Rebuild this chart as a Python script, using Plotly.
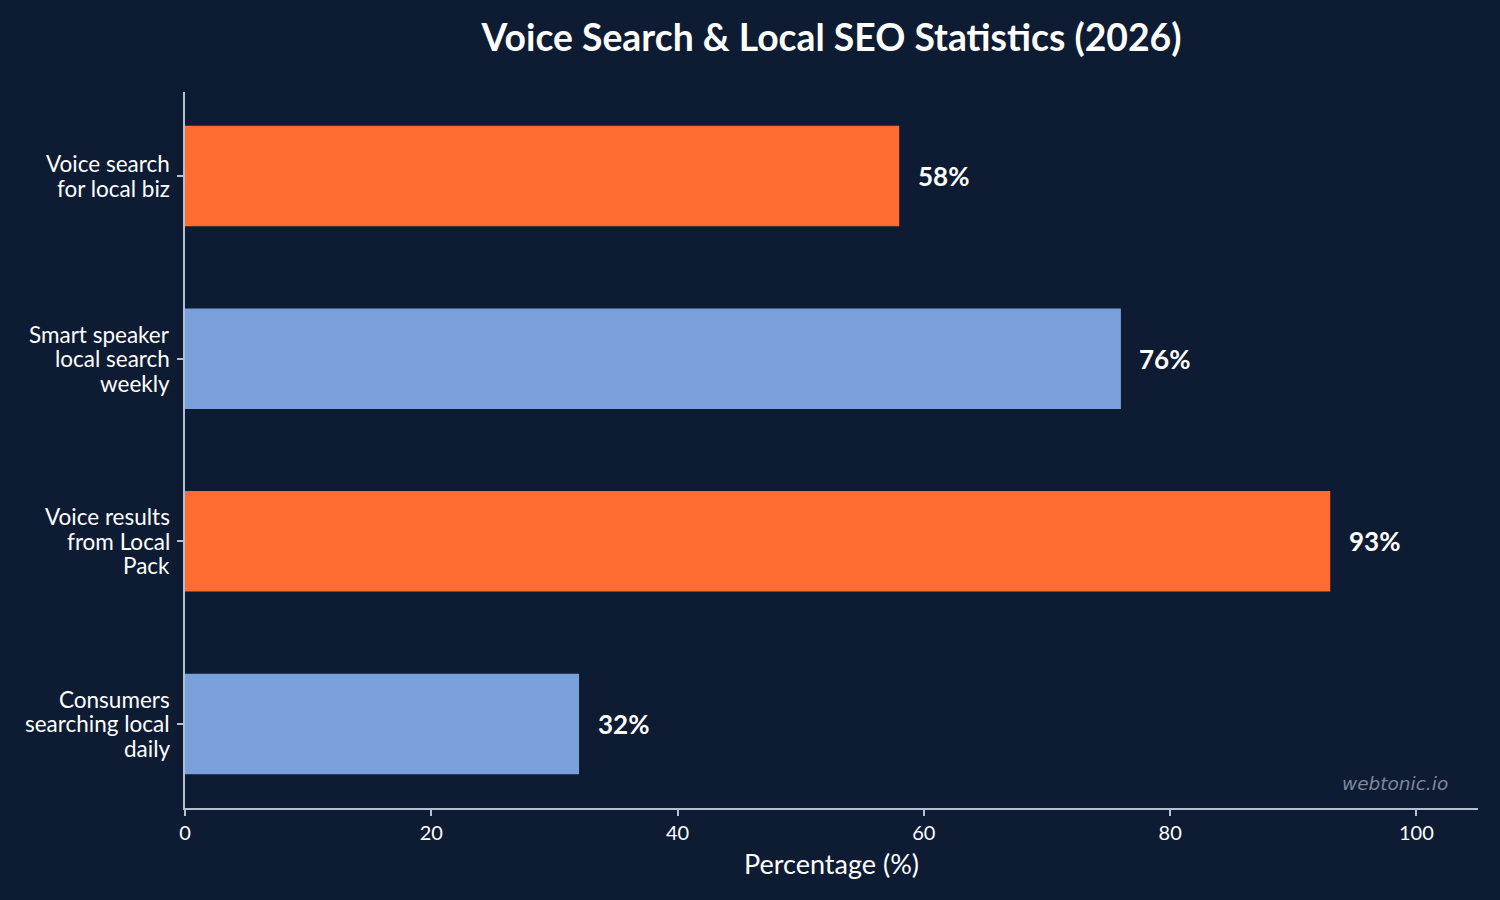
import plotly.graph_objects as go

categories = ["Voice search<br>for local biz", "Smart speaker<br>local search<br>weekly",
              "Voice results<br>from Local<br>Pack", "Consumers<br>searching local<br>daily"]
values = [58, 76, 93, 32]
colors = ["#ff6b30", "#7aa0dc", "#ff6b30", "#7aa0dc"]
labels = [f"{v}%" for v in values]

BG = "#0d1b33"
AX = "#b4bfcf"
LINE_H = 24.5

fig = go.Figure()
fig.add_trace(go.Bar(
    y=list(range(len(categories))), x=values, orientation="h",
    marker=dict(color=colors, line=dict(width=0)), width=0.55,
    hoverinfo="skip", showlegend=False,
))

annotations = []
for i, (v, lab) in enumerate(zip(values, labels)):
    annotations.append(dict(
        text=f"<b>{lab}</b>", xref="x", yref="y", x=v + 1.5, y=i,
        xanchor="left", yanchor="middle", xshift=-2, yshift=0, showarrow=False,
        font=dict(family="Lato", size=26, color="white")))

for i, cat in enumerate(categories):
    lines = cat.split("<br>")
    n = len(lines)
    for j, line in enumerate(lines):
        annotations.append(dict(
            text=line, xref="paper", yref="y", x=0, y=i,
            xanchor="right", yanchor="middle", xshift=-13,
            yshift=-(j - (n - 1) / 2) * LINE_H, showarrow=False,
            font=dict(family="Lato", size=22.5, color="white")))

annotations.append(dict(text="webtonic.io", xref="paper", yref="paper",
                        x=(1450 - 185) / (1478 - 185), y=(808 - 783) / (808 - 92),
                        xanchor="right", yanchor="middle", showarrow=False,
                        font=dict(family="DejaVu Sans", size=18.5, color="#7d889c", style="italic")))

fig.update_layout(
    width=1500, height=900,
    paper_bgcolor=BG, plot_bgcolor=BG,
    margin=dict(l=185, r=22, t=92, b=92),
    font=dict(family="Lato", color="white", size=20),
    title=dict(text="<b>Voice Search &amp; Local SEO Statistics (2026)</b>",
               x=(185 + 1478) / 2 / 1500, xanchor="center", y=1 - 38 / 900, yanchor="middle",
               font=dict(family="Lato", size=37.3, color="white")),
    xaxis=dict(range=[0, 105], tickvals=[0, 20, 40, 60, 80, 100],
               showgrid=False, zeroline=False, showline=True, linecolor=AX, linewidth=1.5,
               ticks="outside", ticklen=6, tickcolor=AX, tickwidth=1.5,
               tickfont=dict(family="Lato", size=20, color="white"),
               title=dict(text="Percentage (%)", font=dict(family="Lato", size=27, color="white"), standoff=12)),
    yaxis=dict(range=[3.46, -0.46], tickvals=list(range(len(categories))),
               ticktext=[""] * len(categories),
               showgrid=False, zeroline=False, showline=True, linecolor=AX, linewidth=1.5,
               ticks="outside", ticklen=6, tickcolor=AX, tickwidth=1.5),
    annotations=annotations,
)

fig.write_html("out.html")
